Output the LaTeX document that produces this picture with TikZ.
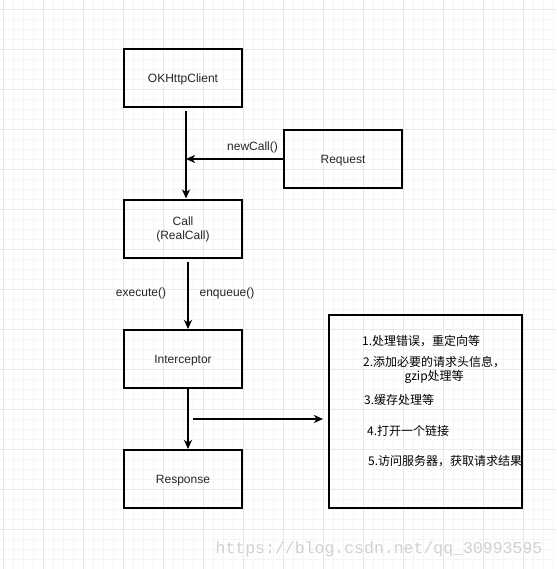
\documentclass[tikz,border=0pt]{standalone}
\usepackage{fontspec}
\setmainfont{Liberation Sans}
\newfontfamily\cjk{Noto Sans CJK SC}
\newfontfamily\filigrane{Liberation Mono}
\usetikzlibrary{arrows.meta}
\begin{document}
\begin{tikzpicture}[x=1pt, y=-1pt]
				\tikzset{boite/.style={rectangle, draw=black, line width=2pt, minimum width=118pt, minimum height=58pt, font=\fontsize{12}{14}\selectfont, text=black!85, text depth=0pt, align=center}, fleche/.style={line width=2pt, -{Stealth[length=9pt, width=8pt, inset=2.5pt]}}, etiquette/.style={font=\fontsize{12}{14}\selectfont, text=black!85, inner sep=0pt}, etape/.style={font=\cjk\fontsize{12}{14}\selectfont, inner sep=0pt, anchor=west}};
				\useasboundingbox[fill=white] (0,0) rectangle (556,569);
				% quadrillage
				\foreach \x in {3,13,...,553} \draw[black!4, line width=0.8pt] (\x,0) -- (\x,569);
				\foreach \y in {9,19,...,569} \draw[black!4, line width=0.8pt] (0,\y) -- (556,\y);
				\foreach \x in {3,43,...,523} \draw[black!9, line width=0.8pt] (\x,0) -- (\x,569);
				\foreach \y in {9,49,...,569} \draw[black!9, line width=0.8pt] (0,\y) -- (556,\y);

				\node[boite] (client) at (183,78.5) {OKHttpClient};
				\node[boite] (requete) at (343,159) {Request};
				\node[boite] (call) at (183,228.5) {Call\\(RealCall)};
				\node[boite] (inter) at (183,359) {Interceptor};
				\node[boite] (reponse) at (183,479) {Response};
				\node[boite, minimum width=193pt, minimum height=193pt] (etapes) at (425.5,411.5) {};

				\node[etape] (e1) at (362,341) {1.处理错误，重定向等};
				\node[etape, align=center] (e2) at (363,370) {2.添加必要的请求头信息，\\gzip处理等};
				\node[etape] (e3) at (364,400) {3.缓存处理等};
				\node[etape] (e4) at (367,431) {4.打开一个链接};
				\node[etape] (e5) at (368,461) {5.访问服务器，获取请求结果};

				\node[etiquette] (newcall) at (252.5,147) {newCall()};
				\node[etiquette] (execute) at (141,293.5) {execute()};
				\node[etiquette] (enqueue) at (227,293.5) {enqueue()};

				\coordinate (jonction) at (186,159);
				\coordinate (depart) at (193,419);
				\coordinate (arrivee) at (323,419);
				\draw[fleche, shorten <=3pt] ([xshift=3pt]client.south) -- ([xshift=3pt]call.north);
				\draw[fleche] (requete.west) -- (jonction);
				\draw[fleche, shorten <=3pt] ([xshift=5pt]call.south) -- ([xshift=5pt]inter.north);
				\draw[fleche] ([xshift=5pt]inter.south) -- ([xshift=5pt]reponse.north);
				\draw[fleche] (depart) -- (arrivee);

				\node[text=black!18, font=\filigrane\fontsize{16.5}{18}\selectfont, inner sep=0pt] (marque) at (379,549) {https://blog.csdn.net/qq\_30993595};
			\end{tikzpicture}
\end{document}
